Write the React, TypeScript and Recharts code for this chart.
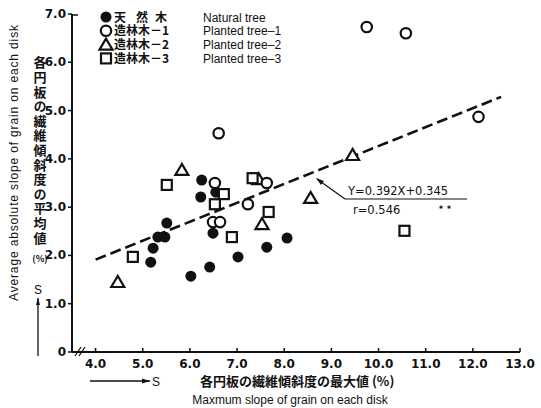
import React from 'react';
import { ScatterChart, Scatter, XAxis, YAxis, ReferenceLine } from 'recharts';

// 天然木 Natural tree
const naturalX = [6.25, 6.23, 6.55, 5.51, 5.32, 5.47, 5.22, 5.17, 6.49, 7.63, 8.06, 7.02, 6.42, 6.02];
const naturalY = [3.56, 3.21, 3.31, 2.67, 2.38, 2.38, 2.15, 1.86, 2.46, 2.17, 2.36, 1.97, 1.76, 1.57];
// 造林木-1
const planted1X = [9.75, 10.58, 12.12, 6.61, 6.53, 7.63, 7.23, 6.49, 6.64];
const planted1Y = [6.73, 6.60, 4.87, 4.53, 3.50, 3.50, 3.06, 2.69, 2.69];
// 造林木-2
const planted2X = [5.83, 7.46, 7.53, 8.56, 4.47, 9.45];
const planted2Y = [3.77, 3.58, 2.65, 3.19, 1.45, 4.08];
// 造林木-3
const planted3X = [5.51, 6.72, 6.53, 7.33, 7.67, 6.89, 4.79, 10.55];
const planted3Y = [3.46, 3.27, 3.06, 3.60, 2.90, 2.38, 1.97, 2.51];

const xTicks = [4, 5, 6, 7, 8, 9, 10, 11, 12, 13];
const yTicks = [0, 1, 2, 3, 4, 5, 6, 7];

// Y = 0.392X + 0.345, r = 0.546
const slope = 0.392;
const intercept = 0.345;
const fitRange = [4.0, 12.6];

const toPoints = (xs: number[], ys: number[]) => xs.map((x, i) => ({ x, y: ys[i] }));

const natural = toPoints(naturalX, naturalY);
const planted1 = toPoints(planted1X, planted1Y);
const planted2 = toPoints(planted2X, planted2Y);
const planted3 = toPoints(planted3X, planted3Y);

const tickFont = '"DejaVu Sans", sans-serif';
const jpFont = '"Noto Sans CJK JP", sans-serif';
const enFont = '"Liberation Sans", Arial, sans-serif';

const FilledCircle = (p: any) => <circle cx={p.cx} cy={p.cy} r={5.5} fill="#111" />;
const OpenCircle = (p: any) => <circle cx={p.cx} cy={p.cy} r={5.2} fill="#fff" stroke="#111" strokeWidth={2.2} />;
const OpenTriangle = (p: any) => (
  <polygon
    points={`${p.cx},${p.cy - 6} ${p.cx - 6.5},${p.cy + 5} ${p.cx + 6.5},${p.cy + 5}`}
    fill="#fff"
    stroke="#111"
    strokeWidth={2.2}
  />
);
const OpenSquare = (p: any) => (
  <rect x={p.cx - 5} y={p.cy - 5} width={10} height={10} fill="#fff" stroke="#111" strokeWidth={2.2} />
);

const XTick = (p: any) => {
  const v = p.payload.value;
  return (
    <g>
      <line x1={p.x} y1={p.y} x2={p.x} y2={p.y - 4} stroke="#111" strokeWidth={1.5} />
      <text x={p.x} y={p.y + 16} textAnchor="middle" fontFamily={tickFont} fontWeight="bold" fontSize={12} fill="#111">
        {v.toFixed(1)}
      </text>
    </g>
  );
};

const YTick = (p: any) => {
  const v = p.payload.value;
  return (
    <g>
      <line x1={p.x} y1={p.y} x2={p.x - 4} y2={p.y} stroke="#111" strokeWidth={1.5} />
      <text x={p.x - 6} y={p.y + 4} textAnchor="end" fontFamily={tickFont} fontWeight="bold" fontSize={12} fill="#111">
        {v === 0 ? '0' : v.toFixed(1)}
      </text>
    </g>
  );
};

const legendJp = ['造林木－1', '造林木－2', '造林木－3'];
const legendEn = ['Natural tree', 'Planted tree–1', 'Planted tree–2', 'Planted tree–3'];
const legendMarks = [FilledCircle, OpenCircle, OpenTriangle, OpenSquare];
const rowY = (i: number) => 17 + i * 13.8;

const Overlay = () => (
  <svg width={541} height={408} style={{ position: 'absolute', left: 0, top: 0, pointerEvents: 'none' }}>
    {/* legend */}
    {legendMarks.map((M, i) => (
      <M key={i} cx={106} cy={rowY(i)} />
    ))}
    <text fontFamily={jpFont} fontSize={12} fontWeight="bold" fill="#111">
      <tspan x={114} y={rowY(0) + 4.5}>天</tspan>
      <tspan x={136} y={rowY(0) + 4.5}>然</tspan>
      <tspan x={155} y={rowY(0) + 4.5}>木</tspan>
      {legendJp.map((t, i) => (
        <tspan key={i} x={114} y={rowY(i + 1) + 4.5}>{t}</tspan>
      ))}
    </text>
    <text fontFamily={enFont} fontSize={12} fill="#111">
      {legendEn.map((t, i) => (
        <tspan key={i} x={203} y={rowY(i) + 4.5}>{t}</tspan>
      ))}
    </text>

    {/* y axis labels */}
    <text
      transform="translate(18,163) rotate(-90)"
      textAnchor="middle"
      fontFamily={enFont}
      fontSize={12}
      textLength={276}
      lengthAdjust="spacing"
      fill="#111"
    >
      Average absolute slope of grain on each disk
    </text>
    <text
      x={40}
      y={56}
      style={{ writingMode: 'vertical-rl' }}
      fontFamily={jpFont}
      fontSize={13}
      fontWeight="bold"
      letterSpacing={1.6}
      fill="#111"
    >
      各円板の繊維傾斜度の平均値
    </text>
    <text x={40} y={262} textAnchor="middle" fontFamily={jpFont} fontSize={9} fontWeight="bold" fill="#111">(%)</text>
    <text x={38} y={294} textAnchor="middle" fontFamily={enFont} fontSize={12} fill="#111">S</text>
    <line x1={38} y1={298} x2={38} y2={356} stroke="#111" strokeWidth={1.3} />
    <polygon points="38,298 36,305 40,305" fill="#111" />

    {/* axis break */}
    <line x1={75} y1={356} x2={81} y2={347} stroke="#111" strokeWidth={1.3} />
    <line x1={79} y1={356} x2={85} y2={347} stroke="#111" strokeWidth={1.3} />
    <line x1={72} y1={15} x2={78} y2={15} stroke="#111" strokeWidth={1.5} />

    {/* x axis labels */}
    <line x1={90} y1={381} x2={150} y2={381} stroke="#111" strokeWidth={1.3} />
    <polygon points="150,381 142,378.5 142,383.5" fill="#111" />
    <text x={152} y={386} fontFamily={enFont} fontSize={12} fill="#111">S</text>
    <text x={200} y={386} fontFamily={jpFont} fontSize={13} fontWeight="bold" fill="#111">各円板の繊維傾斜度の最大値 (%)</text>
    <text x={290} y={404} textAnchor="middle" fontFamily={enFont} fontSize={12} fill="#111">Maxmum slope of grain on each disk</text>

    {/* regression annotation */}
    <line x1={345} y1={199} x2={317} y2={179} stroke="#111" strokeWidth={1.2} />
    <polygon points="316,178 321,185 324,181" fill="#111" />
    <line x1={345} y1={199} x2={467} y2={199} stroke="#111" strokeWidth={1.2} />
    <text x={348} y={195} fontFamily={tickFont} fontSize={11.5} fill="#111">Y=0.392X+0.345</text>
    <text x={353} y={214} fontFamily={tickFont} fontSize={11.5} fill="#111">r=0.546</text>
    <text x={437} y={211} fontFamily={enFont} fontSize={8} fontWeight="bold" fill="#111">＊＊</text>
  </svg>
);

export default function App() {
  return (
    <div style={{ position: 'absolute', left: 0, top: 0, width: 541, height: 408, background: '#fff' }}>
      <ScatterChart width={541} height={408} margin={{ top: 14, right: 21, bottom: 0, left: 0 }}>
        <XAxis
          type="number"
          dataKey="x"
          domain={[3.5, 13]}
          ticks={xTicks}
          allowDataOverflow
          height={56}
          tickSize={0}
          tickMargin={0}
          tickLine={false}
          tick={<XTick />}
          axisLine={{ stroke: '#111', strokeWidth: 2 }}
        />
        <YAxis
          type="number"
          dataKey="y"
          domain={[0, 7]}
          ticks={yTicks}
          allowDataOverflow
          width={72}
          tickSize={0}
          tickMargin={0}
          tickLine={false}
          tick={<YTick />}
          axisLine={{ stroke: '#111', strokeWidth: 2 }}
        />
        <ReferenceLine
          segment={[
            { x: fitRange[0], y: slope * fitRange[0] + intercept },
            { x: fitRange[1], y: slope * fitRange[1] + intercept },
          ]}
          stroke="#111"
          strokeWidth={2.6}
          strokeDasharray="11 5"
        />
        <Scatter data={natural} shape={FilledCircle} isAnimationActive={false} />
        <Scatter data={planted2} shape={OpenTriangle} isAnimationActive={false} />
        <Scatter data={planted3} shape={OpenSquare} isAnimationActive={false} />
        <Scatter data={planted1} shape={OpenCircle} isAnimationActive={false} />
      </ScatterChart>
      <Overlay />
    </div>
  );
}
